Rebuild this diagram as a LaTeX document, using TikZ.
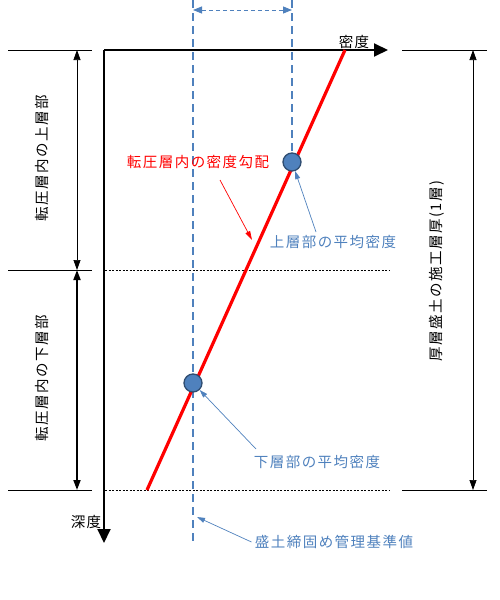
\documentclass[tikz,border=0pt]{standalone}
\usepackage{fontspec}
\newfontfamily\jp[LetterSpace=10]{Noto Sans CJK JP}
\usetikzlibrary{arrows.meta,positioning}
\definecolor{refblue}{HTML}{4F81BD}
\definecolor{txtblue}{HTML}{4F81BD}
\begin{document}
\begin{tikzpicture}[x=1pt, y=-1pt, font=\jp\fontsize{14.5}{16}\selectfont,
        dim/.style={{Triangle[length=10pt,width=7pt]}-{Triangle[length=10pt,width=7pt]}},
        note/.style={refblue, line width=0.7pt, -{Triangle[length=8pt,width=5pt]}},
        avg/.style={circle, fill=refblue, draw=refblue!60!black, line width=1.3pt, minimum size=18pt, inner sep=0pt}]
    \useasboundingbox (0,0) rectangle (500,600);
    % axes
    \coordinate (o) at (104,50);
    \coordinate (xend) at (388,50);
    \coordinate (yend) at (104,543);
    \draw[line width=2pt, -{Triangle[length=14pt,width=13pt]}] (o) -- (xend);
    \draw[line width=2pt, -{Triangle[length=14pt,width=13pt]}] (o) -- (yend);
    \node (dens) at (354,42) {密度};
    \node (depth) at (86,522) {深度};
    % layer boundaries
    \foreach \y in {270,490}
        \draw[dash pattern=on 2pt off 1.5pt, line width=0.6pt] (105,\y) -- (390,\y);
    \foreach \y [count=\i] in {50,270,490} {
        \coordinate (l\i) at (8,\y);
        \coordinate (m\i) at (77,\y);
        \draw[line width=0.7pt] (l\i) -- (92,\y);
    }
    \foreach \y [count=\i] in {50,490} {
        \coordinate (r\i) at (473,\y);
        \draw[line width=0.7pt] (402,\y) -- (487,\y);
    }
    \draw[dim, line width=0.7pt] (m1) -- (m2);
    \draw[dim, line width=1.8pt] (m2) -- (m3);
    \draw[dim, line width=0.7pt] (r1) -- (r2);
    \node[rotate=90] (upper) at (42,158) {転圧層内の上層部};
    \node[rotate=90] (lower) at (42,378) {転圧層内の下層部};
    \node[rotate=90] (thick) at (437,271) {厚層盛土の施工層厚(1層)};
    % reference values
    \coordinate (b0) at (193,0);
    \coordinate (b1) at (193,543);
    \coordinate (t0) at (292,0);
    \draw[refblue, line width=1.6pt, dash pattern=on 8pt off 5pt] (b0) -- (b1);
    \draw[refblue, line width=1.6pt, dash pattern=on 8pt off 5pt] (t0) -- (292,155);
    \coordinate (wl) at (193,10);
    \coordinate (wr) at (292,10);
    \draw[refblue, line width=0.8pt, dash pattern=on 4pt off 3pt,
        {Triangle[length=9pt,width=7pt]}-{Triangle[length=9pt,width=7pt]}] (wl) -- (wr);
    % density gradient
    \coordinate (g0) at (147,490);
    \coordinate (g1) at (345,50);
    \draw[red, line width=3.2pt] (g0) -- (g1);
    \node[avg] (upc) at (292,162) {};
    \node[avg] (lowc) at (193,383) {};
    % labels
    \node[red] (grad) at (198,162) {転圧層内の密度勾配};
    \coordinate (gradtail) at (220,180);
    \coordinate (gradhit) at (252,240);
    \draw[red, line width=0.7pt, -{Triangle[length=9pt,width=5pt]}] (gradtail) -- (gradhit);
    \node[txtblue] (upavg) at (333,242) {上層部の平均密度};
    \coordinate (uptail) at (316,232);
    \draw[note] (uptail) -- (upc);
    \node[txtblue] (lowavg) at (317,462) {下層部の平均密度};
    \coordinate (lowtail) at (256,449);
    \draw[note] (lowtail) -- (lowc);
    \node[txtblue] (base) at (334,542) {盛土締固め管理基準値};
    \coordinate (basept) at (197,517);
    \draw[note] (base.west) -- (basept);
\end{tikzpicture}
\end{document}
